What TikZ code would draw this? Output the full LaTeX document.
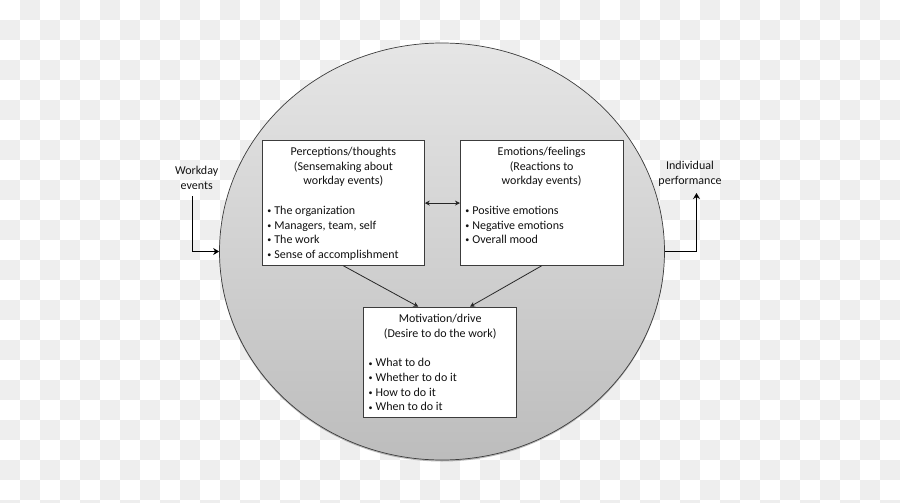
\documentclass[tikz,border=0pt]{standalone}
\usepackage{fontspec}
\setmainfont{Carlito}
\usetikzlibrary{shapes.geometric,arrows.meta,calc,shadows}
\definecolor{cb}{HTML}{EEEEEE}
\definecolor{txt}{HTML}{111111}
\definecolor{edge}{HTML}{3C3C3C}
\tikzset{
  box/.style={draw=edge, line width=0.8pt, fill=white, inner sep=0pt, anchor=north west, text=txt},
  lbl/.style={align=center, inner sep=0pt, text=txt, font=\fontsize{12}{14.5}\selectfont},
  thickarrow/.style={line width=1.6pt, -{Stealth[length=6pt,width=7pt]}, black},
  thinarrow/.style={line width=0.8pt, -{Stealth[length=5pt,width=5pt]}, black!85},
  dblarrow/.style={line width=0.8pt, {Stealth[length=5pt,width=5pt]}-{Stealth[length=5pt,width=5pt]}, black!85},
}
\newcommand{\bxcontent}[3]{\parbox[c][#2][t]{#1}{\fontsize{12}{14.7}\selectfont #3}}
\newcommand{\bl}[1]{\hspace*{5pt}\raisebox{0.8pt}{\fontsize{8}{8}\selectfont •}\hspace{3pt}#1}
\begin{document}
\begin{tikzpicture}[x=1pt,y=-1pt]
\useasboundingbox (0,0) rectangle (900,503);
% checkerboard background
\fill[white] (0,0) rectangle (900,503);
\begin{scope}
\clip (0,0) rectangle (900,503);
\foreach \i in {0,...,44}{
  \foreach \j in {0,...,25}{
    \pgfmathtruncatemacro{\cbpar}{mod(\i+\j,2)}
    \ifnum\cbpar=1 \fill[cb] (\i*20,\j*20) rectangle +(20,20);\fi
  }
}
\end{scope}
% big ellipse
\node[ellipse, draw=edge, line width=0.7pt, minimum width=445pt, minimum height=417pt, inner sep=0pt,
  top color=black!10, bottom color=black!26,
  drop shadow={shadow xshift=0pt, shadow yshift=-1.5pt, opacity=0.45, fill=black!60}] (circ) at (442,251.5) {};
% boxes
\node[box] (b1) at (262,140) {\bxcontent{162pt}{125pt}{%
  \vspace*{4.9pt}{\centering\strut Perceptions/thoughts\\(Sensemaking about\\workday events)\par}
  \vspace{14.7pt}
  \bl{The organization}\\
  \bl{Managers, team, self}\\
  \bl{The work}\\
  \bl{Sense of accomplishment}}};
\node[box] (b2) at (460,140) {\bxcontent{162.5pt}{125pt}{%
  \vspace*{4.9pt}{\centering\strut Emotions/feelings\\(Reactions to\\workday events)\par}
  \vspace{14.7pt}
  \bl{Positive emotions}\\
  \bl{Negative emotions}\\
  \bl{Overall mood}}};
\node[box] (b3) at (363.3,306.7) {\bxcontent{153pt}{110pt}{%
  \vspace*{5.4pt}{\centering\strut Motivation/drive\\(Desire to do the work)\par}
  \vspace{14.7pt}
  \bl{What to do}\\
  \bl{Whether to do it}\\
  \bl{How to do it}\\
  \bl{When to do it}}};
% outside labels
\node[lbl] (we) at (196.7,177.7) {Workday\\events};
\node[lbl] (ip) at (690,174) {Individual\\performance};
\coordinate (wtop) at (192.5,196);
\coordinate (ptop) at (696.5,193);
% connectors
\draw[thickarrow] (wtop) |- (circ.west);
\draw[thickarrow] (circ.east) -| (ptop);
\draw[dblarrow] ($(b1.east)+(0,0.2)$) -- ($(b2.west)+(0,0.2)$);
\draw[thinarrow] (b1.south) -- ($(b3.north west)+(55,0)$);
\draw[thinarrow] (b2.south) -- ($(b3.north west)+(106.7,0)$);
\end{tikzpicture}
\end{document}
